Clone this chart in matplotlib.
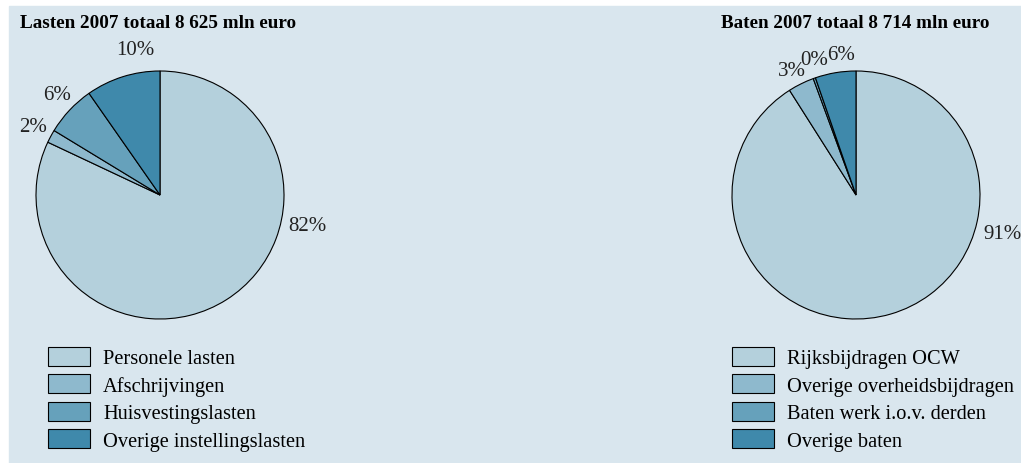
import matplotlib
matplotlib.use('Agg')
import matplotlib.pyplot as plt
from matplotlib.patches import Rectangle

# data
lasten_labels = ['Personele lasten', 'Afschrijvingen', 'Huisvestingslasten', 'Overige instellingslasten']
lasten_values = [82.0, 1.7, 6.6, 9.7]
lasten_pct = ['82%', '2%', '6%', '10%']

baten_labels = ['Rijksbijdragen OCW', 'Overige overheidsbijdragen', 'Baten werk i.o.v. derden', 'Overige baten']
baten_values = [91.0, 3.4, 0.3, 5.3]
baten_pct = ['91%', '3%', '0%', '6%']

colors = ['#b4d0dc', '#8eb9cd', '#66a1bb', '#3f89ab']
bg = '#d9e6ee'

W, H = 1021, 464
plt.rcParams['font.family'] = ['Liberation Serif', 'DejaVu Serif']
fig = plt.figure(figsize=(W / 100, H / 100), dpi=100)
fig.patches.append(Rectangle((9 / W, 0), 1 - 9 / W, (H - 7) / H,
                             transform=fig.transFigure, color=bg, zorder=-1))


def pie_axes(cx, cy, r):
    return fig.add_axes([(cx - r) / W, (H - cy - r) / H, 2 * r / W, 2 * r / H])


def draw_pie(ax, values, pct, label_pos):
    wedges, _ = ax.pie(values, colors=colors, startangle=90, counterclock=False,
                       radius=1, wedgeprops=dict(edgecolor='black', linewidth=0.8))
    ax.set_xlim(-1, 1)
    ax.set_ylim(-1, 1)
    ax.set_aspect('equal')
    ax.axis('off')
    for t, (x, y) in zip(pct, label_pos):
        ax.text(x, y, t, ha='center', va='center', fontsize=15, color='#222222', clip_on=False)
    return wedges


ax1 = pie_axes(160, 196, 124)
w1 = draw_pie(ax1, lasten_values, lasten_pct,
              [(1.19, -0.25), (-1.02, 0.55), (-0.83, 0.81), (-0.20, 1.17)])
ax2 = pie_axes(856, 196, 124)
w2 = draw_pie(ax2, baten_values, baten_pct,
              [(1.18, -0.31), (-0.52, 1.0), (-0.34, 1.09), (-0.12, 1.13)])

fig.text(20 / W, 1 - 24 / H, 'Lasten 2007 totaal 8 625 mln euro', fontsize=13.8,
         fontweight='bold', ha='left', va='center')
fig.text(855 / W, 1 - 24 / H, 'Baten 2007 totaal 8 714 mln euro', fontsize=13.8,
         fontweight='bold', ha='center', va='center')

leg_kw = dict(loc='upper left', frameon=False, fontsize=14.7, handlelength=2.06,
              handleheight=1.03, labelspacing=0.3, handletextpad=0.64,
              borderpad=0, borderaxespad=0, bbox_transform=fig.transFigure)
fig.legend(w1, lasten_labels, bbox_to_anchor=(48 / W, 1 - 348 / H), **leg_kw)
fig.legend(w2, baten_labels, bbox_to_anchor=(732 / W, 1 - 348 / H), **leg_kw)

fig.savefig('out.png', dpi=100)
